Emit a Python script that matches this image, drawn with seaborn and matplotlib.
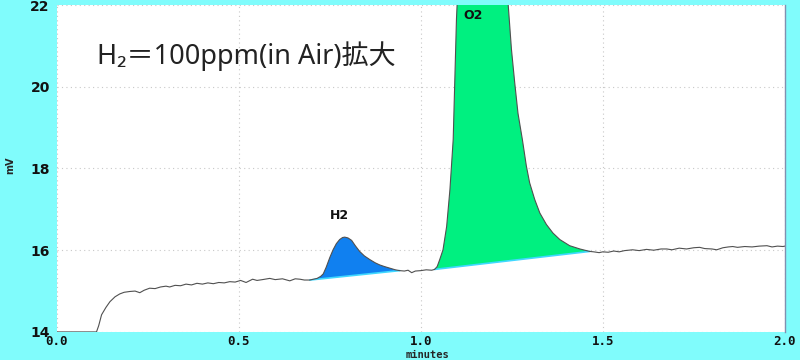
import numpy as np
import matplotlib
matplotlib.use("Agg")
import matplotlib.pyplot as plt
import seaborn as sns

# クロマトグラム (minutes, mV) 読み取り値
time_min = [0.0, 0.109, 0.115, 0.123, 0.135, 0.146, 0.16, 0.173, 0.185, 0.201, 0.215, 0.228,
            0.24, 0.255, 0.27, 0.285, 0.30, 0.31, 0.325, 0.34, 0.355, 0.37, 0.385, 0.40,
            0.415, 0.43, 0.445, 0.46, 0.475, 0.49, 0.505, 0.52, 0.538, 0.55, 0.565, 0.585,
            0.60, 0.62, 0.64, 0.655, 0.668, 0.68, 0.695,
            0.705, 0.715, 0.725, 0.732, 0.74, 0.75, 0.759, 0.768, 0.777, 0.785, 0.791, 0.80,
            0.81, 0.82, 0.832, 0.845, 0.86, 0.875, 0.887, 0.90, 0.915, 0.93, 0.942,
            0.955, 0.965, 0.975, 0.985, 1.0, 1.015, 1.03, 1.038,
            1.045, 1.052, 1.061, 1.071, 1.080, 1.089, 1.094, 1.098, 1.12, 1.17, 1.21,
            1.240, 1.249, 1.258, 1.267, 1.279, 1.290, 1.299, 1.313, 1.327, 1.345, 1.363,
            1.382, 1.409, 1.437, 1.464,
            1.475, 1.49, 1.5, 1.515, 1.53, 1.545, 1.56, 1.582, 1.60, 1.62, 1.64, 1.66,
            1.676, 1.69, 1.71, 1.73, 1.75, 1.766, 1.78, 1.80, 1.813, 1.83, 1.845, 1.857,
            1.87, 1.89, 1.91, 1.93, 1.951, 1.965, 1.98, 1.995, 2.0]
signal_mv = [14.0, 14.0, 14.15, 14.42, 14.6, 14.74, 14.86, 14.93, 14.97, 14.99, 15.0, 14.96,
             15.02, 15.07, 15.06, 15.1, 15.12, 15.1, 15.14, 15.13, 15.17, 15.15, 15.19, 15.17,
             15.2, 15.18, 15.21, 15.2, 15.23, 15.22, 15.26, 15.21, 15.29, 15.26, 15.28, 15.31,
             15.28, 15.3, 15.25, 15.3, 15.29, 15.27, 15.27,
             15.29, 15.31, 15.36, 15.42, 15.58, 15.82, 16.01, 16.16, 16.26, 16.31, 16.32, 16.3,
             16.24, 16.11, 15.97, 15.86, 15.77, 15.69, 15.64, 15.6, 15.56, 15.52, 15.5,
             15.49, 15.51, 15.45, 15.49, 15.5, 15.52, 15.51, 15.53,
             15.6, 15.77, 16.01, 16.58, 17.48, 18.71, 20.3, 21.66, 26.0, 27.0, 25.0,
             22.02, 20.92, 20.1, 19.35, 18.71, 18.06, 17.65, 17.24, 16.91, 16.63, 16.42,
             16.26, 16.11, 16.03, 15.97,
             15.96, 15.94, 15.96, 15.95, 15.98, 15.96, 15.99, 16.01, 15.99, 16.02, 16.0, 16.03,
             16.03, 16.01, 16.05, 16.03, 16.06, 16.07, 16.04, 16.03, 16.01, 16.06, 16.08, 16.09,
             16.07, 16.09, 16.08, 16.1, 16.11, 16.08, 16.1, 16.09, 16.1]

peak_names = ["H2", "O2"]
peak_start = [0.695, 1.038]
peak_end = [0.942, 1.464]
peak_colors = ["#1080f0", "#00f080"]
peak_label_pos = [(0.777, 16.85), (1.143, 21.75)]

x_ticks = [0.0, 0.5, 1.0, 1.5, 2.0]
y_ticks = [14, 16, 18, 20, 22]

bg = "#80fcfc"
sns.set_style("white")
plt.rcParams["font.family"] = ["Noto Sans", "Noto Sans CJK JP", "DejaVu Sans"]

fig = plt.figure(figsize=(8, 3.6), dpi=100, facecolor=bg)
ax = fig.add_axes([0.071, 0.078, 0.91, 0.908])
ax.set_facecolor("white")

t = np.array(time_min)
v = np.array(signal_mv)

# ピーク塗りつぶし（始点と終点を直線で結ぶベースライン）
for name, s, e, c, pos in zip(peak_names, peak_start, peak_end, peak_colors, peak_label_pos):
    m = (t >= s - 1e-9) & (t <= e + 1e-9)
    ax.fill(t[m], v[m], color=c, lw=0, zorder=2)
    ax.plot([t[m][0], t[m][-1]], [v[m][0], v[m][-1]], color="#40d8ff", lw=1.2, zorder=3)
    ax.text(pos[0], pos[1], name, ha="center", va="center", fontsize=9,
            fontweight="bold", family="DejaVu Sans", color="#111111", zorder=5)

sns.lineplot(x=t, y=v, ax=ax, color="#505050", lw=0.8, zorder=4)

ax.set_xlim(0, 2.0)
ax.set_ylim(14, 22)
ax.set_xticks(x_ticks)
ax.set_yticks(y_ticks)
ax.set_xticklabels([f"{x:.1f}" for x in x_ticks], family="DejaVu Sans Mono",
                   fontweight="bold", fontsize=9)
ax.set_yticklabels([str(y) for y in y_ticks], family="DejaVu Sans",
                   fontweight="bold", fontsize=10)
ax.tick_params(axis="x", length=0, pad=2, colors="#111111")
ax.tick_params(axis="y", length=0, pad=5, colors="#111111")
ax.grid(True, ls=(0, (1, 3)), color="#c8c8c8", lw=0.8)
ax.set_xlabel("")
ax.set_ylabel("")
for sp in ["top", "left", "bottom"]:
    ax.spines[sp].set_visible(False)
ax.spines["right"].set_color("#8090b0")
ax.spines["right"].set_linewidth(1.0)

ax.text(0.11, 20.75, "H₂＝100ppm(in Air)拡大", fontsize=19.5, color="#222222",
        va="center", ha="left", zorder=6)

fig.text(0.0125, 0.54, "mV", rotation=90, fontsize=7, fontweight="bold",
         family="DejaVu Sans", ha="center", va="center")
fig.text(0.535, 0.013, "minutes", fontsize=7.5, fontweight="bold",
         family="DejaVu Sans Mono", ha="center", va="center")

fig.savefig("out.png", dpi=100, facecolor=bg)
